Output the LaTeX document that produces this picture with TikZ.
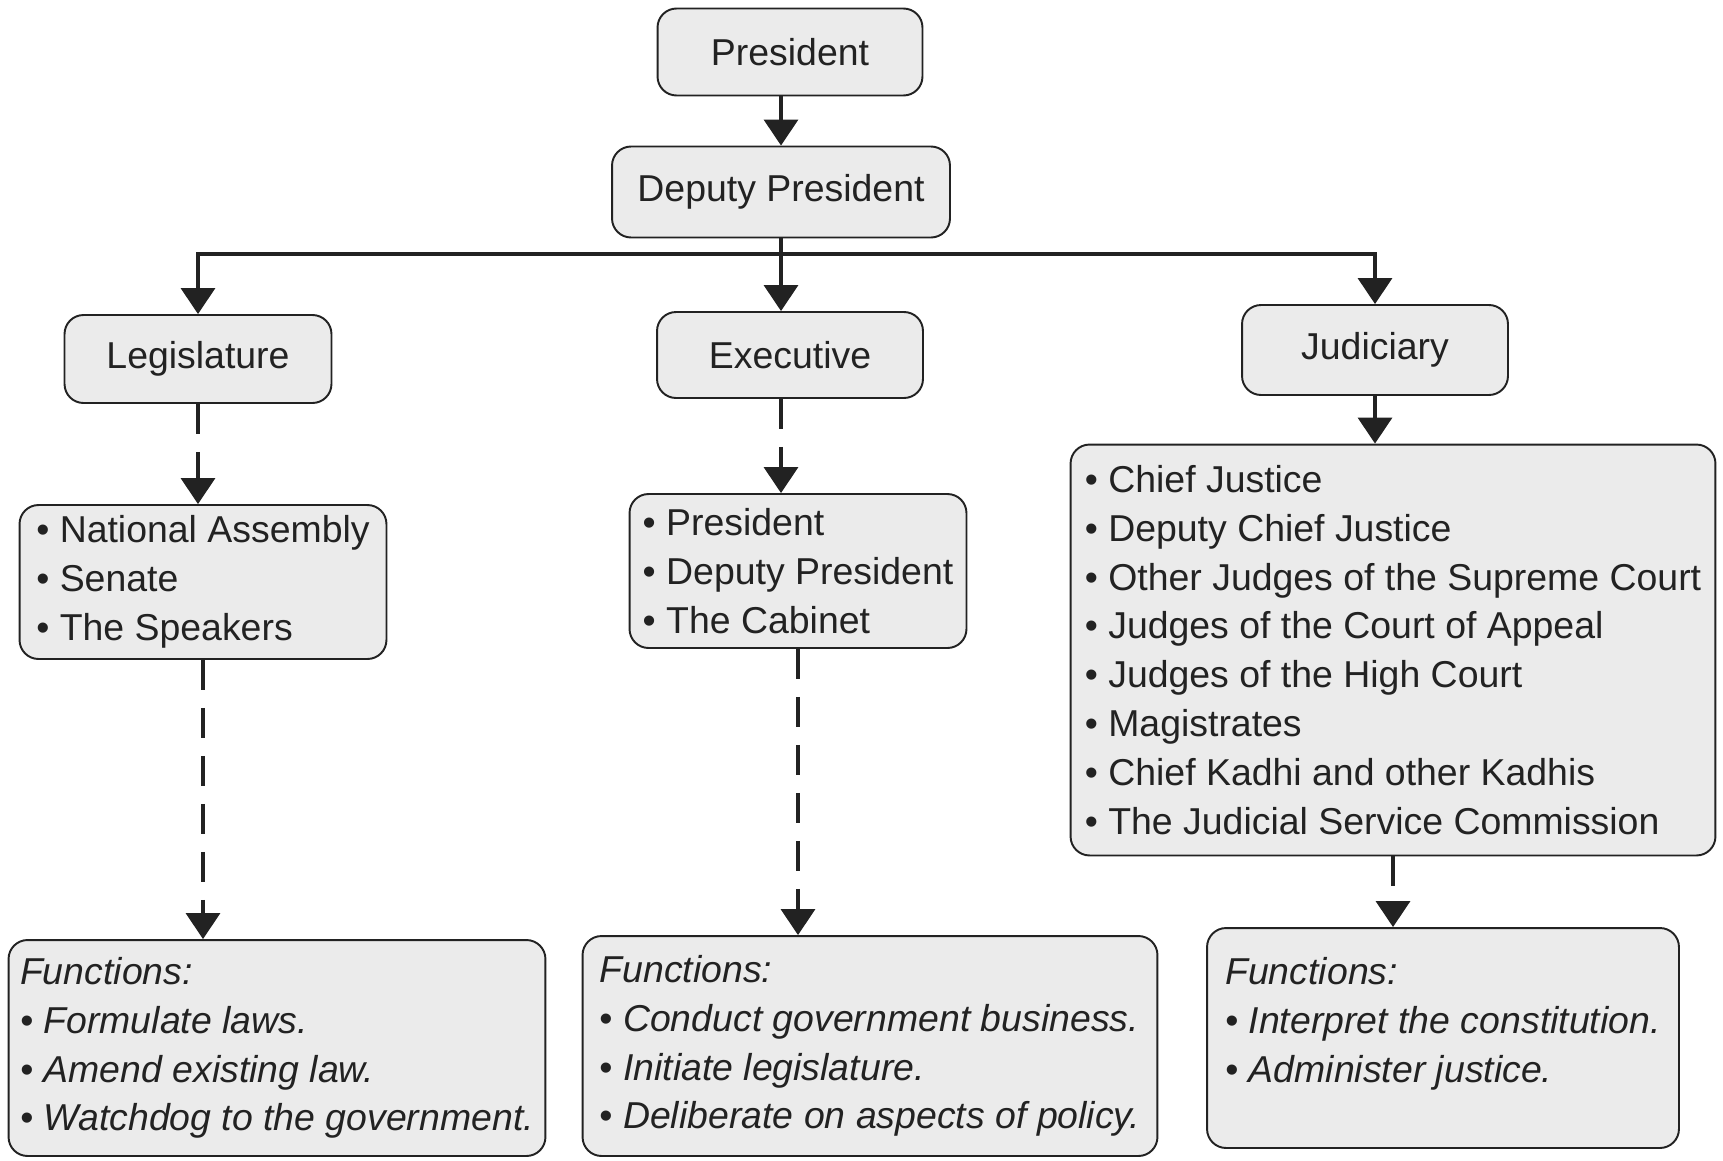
\documentclass[tikz,border=0pt]{standalone}
\usepackage{fontspec}
\setmainfont{Liberation Sans}
\usetikzlibrary{arrows.meta}
\definecolor{boxfill}{HTML}{EBEBEB}
\definecolor{ink}{HTML}{222222}

\begin{document}
\begin{tikzpicture}[x=0.02cm,y=-0.02cm]
    \tikzstyle{every node}=[font=\fontsize{21.3}{27.8}\selectfont, text=ink]
    \tikzstyle{box}=[draw=ink, line width=1.1pt, fill=boxfill, rounded corners=0.38cm,
        align=left, inner sep=0pt]
    \tikzstyle{fun}=[box, font=\fontsize{21.3}{27.8}\selectfont\itshape]
    \tikzstyle{arr}=[draw=ink, line width=2pt, -{Triangle[width=0.68cm,length=0.52cm]}]
    \tikzstyle{darr}=[arr, dash pattern=on 0.6cm off 0.36cm]
    \useasboundingbox (0,0) rectangle (1723,1160);

    % top of the chart
    \node[box, minimum width=5.3cm, minimum height=1.74cm] (pres) at (790,52) {President};
    \node[box, minimum width=6.76cm, minimum height=1.82cm] (dep) at (781,192) {Deputy President};

    % the three arms
    \node[box, minimum width=5.34cm, minimum height=1.76cm] (leg) at (198,359) {Legislature};
    \node[box, minimum width=5.32cm, minimum height=1.72cm] (exec) at (790,355) {Executive};
    \node[box, minimum width=5.32cm, minimum height=1.8cm] (jud) at (1375,350) {Judiciary};

    % members
    \node[box, minimum width=7.34cm, minimum height=3.08cm] (leglist) at (203,582)
    {• National Assembly\\ • Senate\\ • The Speakers};
    \node[box, minimum width=6.74cm, minimum height=3.08cm] (execlist) at (798,571)
    {• President\\ • Deputy President\\ • The Cabinet};
    \node[box, minimum width=12.9cm, minimum height=8.22cm] (judlist) at (1393,650)
    {• Chief Justice\\ • Deputy Chief Justice\\ • Other Judges of the Supreme Court\\
    • Judges of the Court of Appeal\\ • Judges of the High Court\\ • Magistrates\\
    • Chief Kadhi and other Kadhis\\ • The Judicial Service Commission};

    % functions
    \node[fun, minimum width=10.74cm, minimum height=4.32cm] (legfun) at (277,1048)
    {Functions:\\ • Formulate laws.\\ • Amend existing law.\\ • Watchdog to the government.};
    \node[fun, minimum width=11.5cm, minimum height=4.4cm] (execfun) at (870,1046)
    {Functions:\\ • Conduct government business.\\ • Initiate legislature.\\
    • Deliberate on aspects of policy.};
    \node[fun, minimum width=9.44cm, minimum height=4.4cm] (judfun) at (1443,1038)
    {Functions:\\ • Interpret the constitution.\\ • Administer justice.\\[-0.25cm]\mbox{}};

    \coordinate (bar) at (781,254);

    \draw[arr] (pres.south -| dep.north) -- (dep.north);
    \draw[ink, line width=2pt, line cap=rect] (dep.south) -- (bar);
    \draw[ink, line width=2pt, line cap=rect] (leg.north |- bar) -- (jud.north |- bar);
    \draw[arr] (leg.north |- bar) -- (leg.north);
    \draw[arr] (bar) -- (bar |- exec.north);
    \draw[arr] (jud.north |- bar) -- (jud.north);

    \draw[darr] (leg.south) -- (leg.south |- leglist.north);
    \draw[darr] (bar |- exec.south) -- (bar |- execlist.north);
    \draw[arr] (jud.south) -- (jud.south |- judlist.north);

    \draw[darr] (leglist.south) -- (leglist.south |- legfun.north);
    \draw[darr] (execlist.south) -- (execlist.south |- execfun.north);
    \draw[darr] (judlist.south) -- (judlist.south |- judfun.north);

\end{tikzpicture}
\end{document}
